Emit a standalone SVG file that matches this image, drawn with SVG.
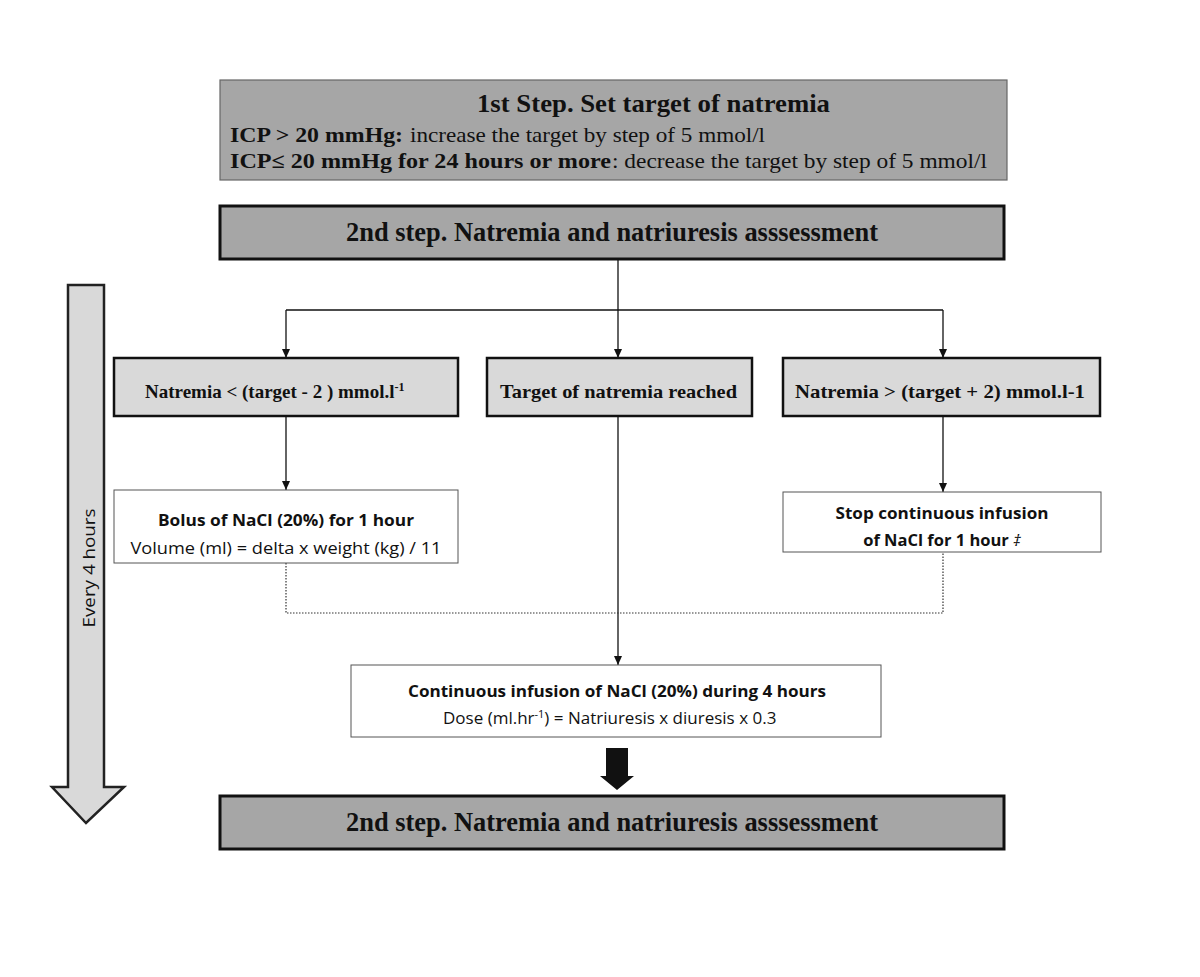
<svg xmlns="http://www.w3.org/2000/svg" width="1200" height="977" viewBox="0 0 1200 977">
<defs>
<style>
.serif{font-family:"Liberation Serif","Times New Roman",serif;font-weight:bold;fill:#111}
.serifn{font-family:"Liberation Serif","Times New Roman",serif;font-weight:normal;fill:#111}
.sans{font-family:"Open Sans","Liberation Sans",sans-serif;fill:#111}
.dark{fill:#a6a6a6;stroke:#111;stroke-width:3}
.light{fill:#d9d9d9;stroke:#111;stroke-width:2.5}
.white{fill:#fff;stroke:#555;stroke-width:1}
.conn{fill:none;stroke:#111;stroke-width:1.3}
.dot{fill:none;stroke:#333;stroke-width:1.2;stroke-dasharray:1.5 1.5}
</style>
<marker id="ah" markerWidth="10" markerHeight="10" refX="9" refY="5" orient="auto" markerUnits="userSpaceOnUse">
<path d="M0,1 L9,5 L0,9 Z" fill="#111"/>
</marker>
</defs>
<rect width="1200" height="977" fill="#fff"/>

<g id="connectors">
<path class="conn" d="M618,259 V358" marker-end="url(#ah)"/>
<path class="conn" d="M286,310 H943"/>
<path class="conn" d="M286,310 V358" marker-end="url(#ah)"/>
<path class="conn" d="M943,310 V358" marker-end="url(#ah)"/>
<path class="conn" d="M286,416 V490" marker-end="url(#ah)"/>
<path class="conn" d="M943,416 V492" marker-end="url(#ah)"/>
<path class="conn" d="M618,416 V665" marker-end="url(#ah)"/>
<path class="dot" d="M286,563 V613 H943 V552"/>
<path d="M606,748 H628 V776 H634 L617,790 L600,776 H606 Z" fill="#111"/>
</g>

<g id="every4h">
<path d="M68,285 H104 V787 H124 L86,823 L52,787 H68 Z" fill="#d9d9d9" stroke="#222" stroke-width="2.5"/>
<text class="sans" x="0" y="0" font-size="17" text-anchor="middle" textLength="119" lengthAdjust="spacingAndGlyphs" transform="translate(95,568) rotate(-90)">Every 4 hours</text>
</g>

<g id="step1">
<rect x="220" y="80" width="787" height="100" fill="#a6a6a6" stroke="#666" stroke-width="1.2"/>
<text class="serif" x="477" y="112" font-size="25" textLength="353" lengthAdjust="spacingAndGlyphs">1st Step.  Set target of natremia</text>
<text class="serif" x="230" y="142" font-size="21" textLength="173" lengthAdjust="spacingAndGlyphs">ICP &gt; 20 mmHg:</text>
<text class="serifn" x="410" y="142" font-size="21" textLength="355" lengthAdjust="spacingAndGlyphs">increase the target by step of 5 mmol/l</text>
<text class="serif" x="230" y="168" font-size="21" textLength="381" lengthAdjust="spacingAndGlyphs">ICP≤  20 mmHg for 24 hours or more</text>
<text class="serifn" x="612" y="168" font-size="21" textLength="375" lengthAdjust="spacingAndGlyphs">: decrease the target by step of 5 mmol/l</text>
</g>

<g id="step2a">
<rect class="dark" x="220" y="206" width="784" height="53"/>
<text class="serif" x="346" y="241" font-size="28" textLength="532" lengthAdjust="spacingAndGlyphs">2nd step. Natremia and natriuresis asssessment</text>
</g>

<g id="low">
<rect class="light" x="114" y="358" width="344" height="58"/>
<text class="serif" x="145" y="398" font-size="19">Natremia &lt; (target - 2 ) mmol.l<tspan font-size="12" dy="-7">-1</tspan></text>
</g>

<g id="reached">
<rect class="light" x="487" y="358" width="265" height="58"/>
<text class="serif" x="500" y="398" font-size="19" textLength="237" lengthAdjust="spacingAndGlyphs">Target of natremia reached</text>
</g>

<g id="high">
<rect class="light" x="783" y="358" width="317" height="58"/>
<text class="serif" x="795" y="398" font-size="19" textLength="290" lengthAdjust="spacingAndGlyphs">Natremia  &gt; (target + 2) mmol.l-1</text>
</g>

<g id="bolus">
<rect class="white" x="114" y="490" width="344" height="73"/>
<text class="sans" x="286" y="526" font-size="16" font-weight="bold" text-anchor="middle" textLength="256" lengthAdjust="spacingAndGlyphs">Bolus of NaCl (20%) for 1 hour</text>
<text class="sans" x="286" y="554" font-size="16" text-anchor="middle" textLength="311" lengthAdjust="spacingAndGlyphs">Volume (ml) = delta x weight (kg) / 11</text>
</g>

<g id="stop">
<rect class="white" x="783" y="492" width="318" height="60"/>
<text class="sans" x="942" y="519" font-size="16" font-weight="bold" text-anchor="middle" textLength="213" lengthAdjust="spacingAndGlyphs">Stop continuous infusion</text>
<text class="sans" x="942" y="546" font-size="16.5" font-weight="bold" text-anchor="middle">of NaCl for 1 hour <tspan font-weight="normal" font-style="italic">‡</tspan></text>
</g>

<g id="infusion">
<rect class="white" x="351" y="665" width="530" height="72"/>
<text class="sans" x="617" y="697" font-size="16" font-weight="bold" text-anchor="middle" textLength="418" lengthAdjust="spacingAndGlyphs">Continuous infusion of NaCl (20%) during 4 hours</text>
<text class="sans" x="443" y="724" font-size="17">Dose (ml.hr<tspan font-size="11" dy="-6">-1</tspan><tspan dy="6">) = Natriuresis x diuresis x 0.3</tspan></text>
</g>

<g id="step2b">
<rect class="dark" x="220" y="796" width="784" height="53"/>
<text class="serif" x="346" y="831" font-size="28" textLength="532" lengthAdjust="spacingAndGlyphs">2nd step. Natremia and natriuresis asssessment</text>
</g>
</svg>
